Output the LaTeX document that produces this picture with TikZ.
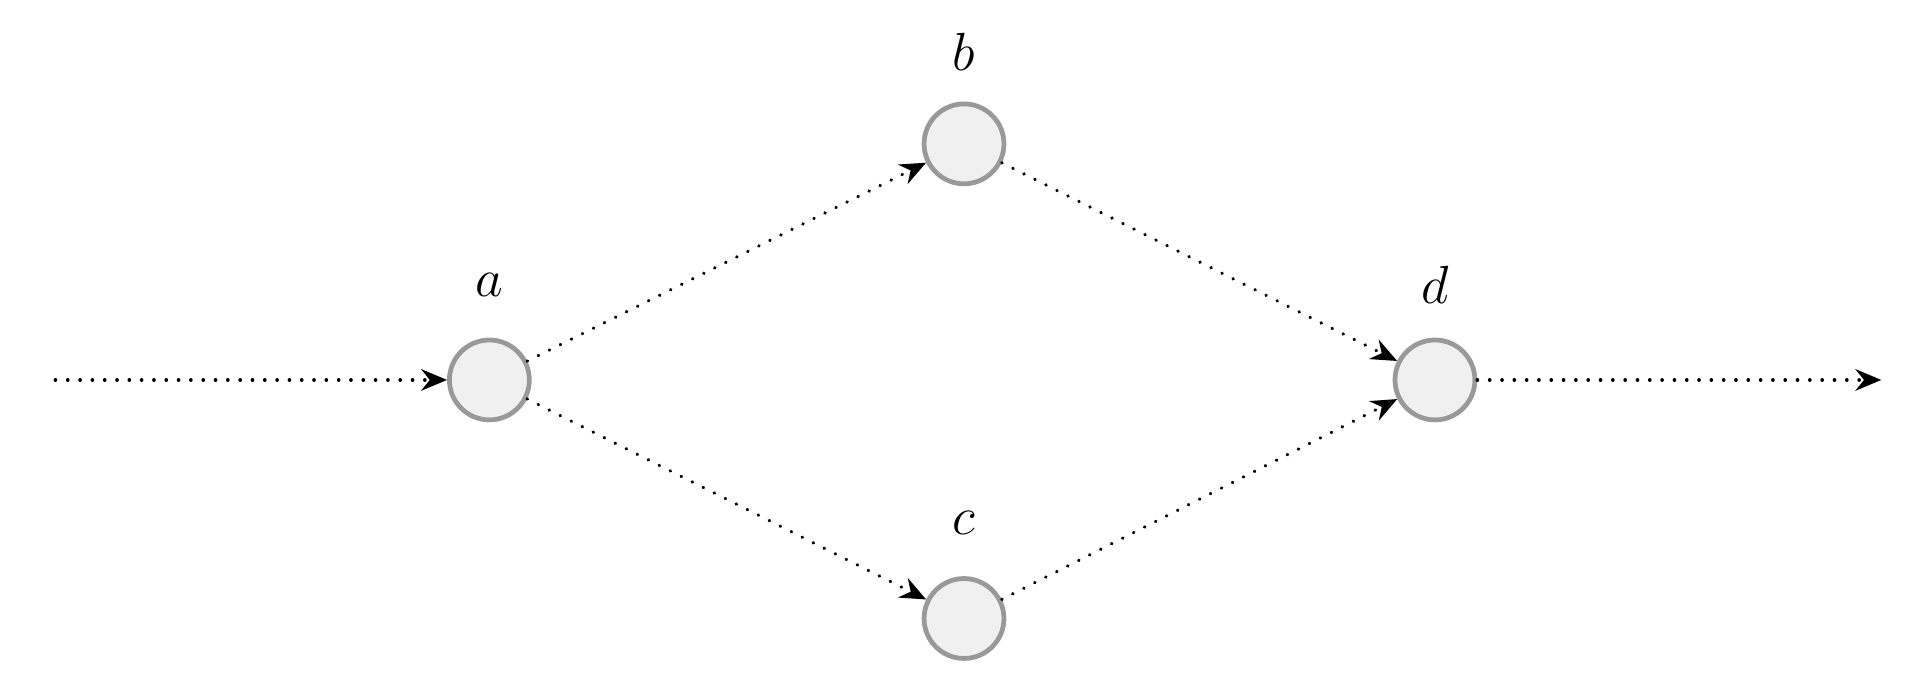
\documentclass[tikz,border=0pt]{standalone}
\usetikzlibrary{arrows.meta}
\begin{document}
\begin{tikzpicture}[x=0.02cm,y=-0.02cm,
  st/.style={circle,draw=black!40,fill=black!6,line width=2.2pt,minimum size=1.3cm,inner sep=0pt},
  lb/.style={font=\fontsize{30}{32}\selectfont},
  ed/.style={line width=1.6pt,line cap=round,dash pattern=on 0.1pt off 5.6pt,-{Stealth[length=12pt,width=10pt,inset=4pt,line cap=butt]}}]
\useasboundingbox (0,0) rectangle (1568,564);
\node[st] (a) at (398,309) {};
\node[st] (b) at (784,117) {};
\node[st] (c) at (784,503) {};
\node[st] (d) at (1167,309) {};
\node[lb] (la) at (398,232) {$a$};
\node[lb] (lb2) at (784,42) {$b$};
\node[lb] (lc) at (784,425) {$c$};
\node[lb] (ld) at (1167,232) {$d$};
\coordinate (s) at (45,309);
\coordinate (e) at (1530,309);
\draw[ed] (s) -- (a);
\draw[ed] (a) -- (b);
\draw[ed] (a) -- (c);
\draw[ed] (b) -- (d);
\draw[ed] (c) -- (d);
\draw[ed] (d) -- (e);
\end{tikzpicture}
\end{document}
